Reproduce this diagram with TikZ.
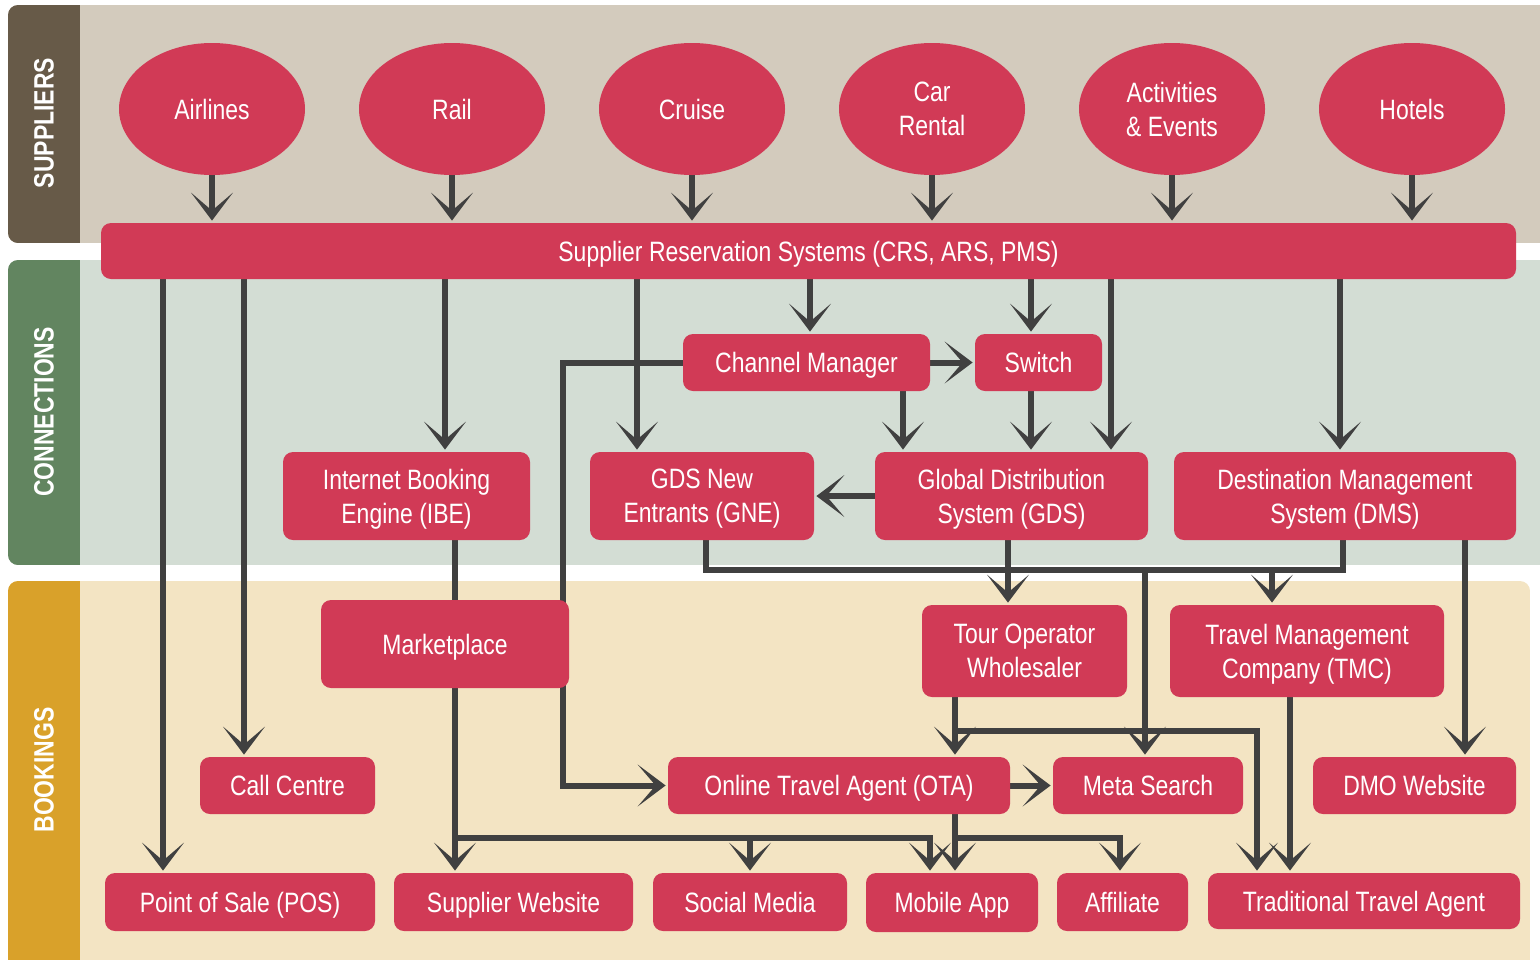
\documentclass[tikz,border=0pt]{standalone}
\usepackage{fontspec}
\setmainfont{Liberation Sans}[FakeStretch=0.82]
\usetikzlibrary{shapes.geometric,arrows.meta}

\definecolor{nodered}{RGB}{209,58,86}
\definecolor{wiregrey}{RGB}{64,64,64}
\definecolor{supstrip}{RGB}{103,90,72}
\definecolor{supbg}{RGB}{211,203,189}
\definecolor{constrip}{RGB}{98,133,96}
\definecolor{conbg}{RGB}{211,221,212}
\definecolor{bookstrip}{RGB}{217,161,42}
\definecolor{bookbg}{RGB}{243,228,195}

\newcommand\boxfont{\fontsize{14}{17}\selectfont}
\newcommand\bandfont{\fontsize{14}{17}\selectfont\bfseries}

\pgfdeclarelayer{bands}
\pgfdeclarelayer{wires}
\pgfsetlayers{bands,wires,main}

\tikzset{every picture/.style={line width=0.75pt}}
\tikzset{
  supplier/.style={ellipse, fill=nodered, text=white, inner sep=0pt,
    minimum width=93pt, minimum height=66pt, align=center, font=\boxfont},
  box/.style={rounded corners=5pt, fill=nodered, text=white, inner sep=0pt,
    align=center, font=\boxfont},
  oneline/.style={box, text height=12pt, text depth=2pt},
  twoline/.style={box, text depth=0pt},
  wire/.style={draw=wiregrey, line width=3pt},
  conn/.style={wire, -{Stealth[length=14pt,width=21pt,inset=9pt]}, shorten >=1pt},
  bandlabel/.style={rotate=90, text=white, font=\bandfont}
}

\begin{document}
\begin{tikzpicture}[x=0.5pt,y=0.5pt,yscale=-1,xscale=1]
\useasboundingbox (0,0) rectangle (1540,959);

% Bands
\begin{pgfonlayer}{bands}
\foreach \ytop/\ybot/\xend/\strip/\bg in {5/243/1560/supstrip/supbg, 260/565/1560/constrip/conbg, 581/990/1530/bookstrip/bookbg}{
  \begin{scope}
    \clip[rounded corners=5pt] (8,\ytop) rectangle (\xend,\ybot);
    \fill[\bg] (8,\ytop) rectangle (\xend,\ybot);
    \fill[\strip] (8,\ytop) rectangle (80,\ybot);
  \end{scope}
}
\end{pgfonlayer}
\node (lblsup) at (44,123) [bandlabel] {SUPPLIERS};
\node (lblcon) at (44,412) [bandlabel] {CONNECTIONS};
\node (lblbook) at (44,770) [bandlabel] {BOOKINGS};

% Suppliers
\node (airlines) at (212,109) [supplier] {Airlines};
\node (rail) at (452,109) [supplier] {Rail};
\node (cruise) at (692,109) [supplier] {Cruise};
\node (car) at (932,109) [supplier] {Car\\Rental};
\node (events) at (1172,109) [supplier] {Activities\\\& Events};
\node (hotels) at (1412,109) [supplier] {Hotels};

\node (srs) at (808.5,251) [oneline, minimum width=707.5pt, minimum height=28pt] {Supplier Reservation Systems (CRS, ARS, PMS)};

% Connections
\node (chm) at (806.5,362.5) [oneline, minimum width=123.5pt, minimum height=28.5pt] {Channel Manager};
\node (switch) at (1038.5,362.5) [oneline, minimum width=63.5pt, minimum height=28.5pt] {Switch};
\node (ibe) at (406.5,496) [twoline, minimum width=123.5pt, minimum height=44pt] {Internet Booking\\Engine (IBE)};
\node (gne) at (702,496) [twoline, minimum width=112pt, minimum height=44pt] {GDS New\\Entrants (GNE)};
\node (gds) at (1011.5,496) [twoline, minimum width=136.5pt, minimum height=44pt] {Global Distribution\\System (GDS)};
\node (dms) at (1345,496) [twoline, minimum width=171pt, minimum height=44pt] {Destination Management\\System (DMS)};

% Bookings
\node (market) at (445,644) [oneline, minimum width=124pt, minimum height=44pt] {Marketplace};
\node (tour) at (1024.5,651) [twoline, minimum width=102.5pt, minimum height=46pt] {Tour Operator\\Wholesaler};
\node (tmc) at (1307,651) [twoline, minimum width=137pt, minimum height=46pt] {Travel Management\\Company (TMC)};
\node (call) at (287.5,785.5) [oneline, minimum width=87.5pt, minimum height=28.5pt] {Call Centre};
\node (ota) at (839,785.5) [oneline, minimum width=171pt, minimum height=28.5pt] {Online Travel Agent (OTA)};
\node (meta) at (1148,785.5) [oneline, minimum width=95pt, minimum height=28.5pt] {Meta Search};
\node (dmo) at (1414.5,785.5) [oneline, minimum width=101.5pt, minimum height=28.5pt] {DMO Website};
\node (pos) at (240,902) [oneline, minimum width=135pt, minimum height=29pt] {Point of Sale (POS)};
\node (suppweb) at (513.5,902) [oneline, minimum width=119.5pt, minimum height=29pt] {Supplier Website};
\node (social) at (750,902) [oneline, minimum width=97pt, minimum height=29pt] {Social Media};
\node (mobile) at (952,902.5) [oneline, minimum width=86pt, minimum height=29.5pt] {Mobile App};
\node (affiliate) at (1122.5,902) [oneline, minimum width=65.5pt, minimum height=29pt] {Affiliate};
\node (tta) at (1364,901) [oneline, minimum width=156pt, minimum height=28pt] {Traditional Travel Agent};

\coordinate (bus) at (706,570);

\begin{pgfonlayer}{wires}
%Suppliers into reservation systems
\foreach \s in {airlines,rail,cruise,car,events,hotels}
  \draw[conn] (\s.south) -- (srs.north -| \s.south);
%Reservation systems down
\draw[conn] (srs.south -| 163,0) -- (pos.north -| 163,0);
\draw[conn] (srs.south -| 244,0) -- (call.north -| 244,0);
\draw[conn] (srs.south -| 445,0) -- (ibe.north -| 445,0);
\draw[conn] (srs.south -| 637,0) -- (gne.north -| 637,0);
\draw[conn] (srs.south -| 810,0) -- (chm.north -| 810,0);
\draw[conn] (srs.south -| 1031,0) -- (switch.north -| 1031,0);
\draw[conn] (srs.south -| 1111,0) -- (gds.north -| 1111,0);
\draw[conn] (srs.south -| 1340,0) -- (dms.north -| 1340,0);
%Channel manager and switch
\draw[conn] (chm.east) -- (switch.west);
\draw[conn] (chm.south -| 903,0) -- (gds.north -| 903,0);
\draw[conn] (switch.south -| 1031,0) -- (gds.north -| 1031,0);
\draw[conn] (gds.west) -- (gne.east);
\draw[conn] (chm.west) -- ++(-120,0) |- (ota.west);
%Marketplace
\draw[wire] (ibe.south -| 455,0) -- (market.north -| 455,0);
\draw[conn] (market.south -| 455,0) -- (suppweb.north -| 455,0);
\draw[conn] (market.south -| 455,0) -- ++(0,150) -| (social.north);
\draw[conn] (market.south -| 455,0) -- ++(0,150) -| (mobile.north -| 930,0);
%Distribution bus
\draw[wire] (gne.south -| bus) -- (bus) -| (dms.south -| 1343,0);
\draw[conn] (gds.south -| 1008,0) -- (tour.north -| 1008,0);
\draw[conn] (bus -| 1272,0) -- (tmc.north -| 1272,0);
\draw[conn] (bus -| 1145,0) -- (meta.north -| 1145,0);
%Tour operator, TMC, DMS
\draw[conn] (tour.south -| 955,0) -- (ota.north -| 955,0);
\draw[conn] (tour.south -| 955,0) -- ++(0,34) -| (tta.north -| 1257,0);
\draw[conn] (tmc.south -| 1290,0) -- (tta.north -| 1290,0);
\draw[conn] (dms.south -| 1465,0) -- (dmo.north -| 1465,0);
%Online travel agent
\draw[conn] (ota.east) -- (meta.west);
\draw[conn] (ota.south -| 955,0) -- (mobile.north -| 955,0);
\draw[conn] (ota.south -| 955,0) -- ++(0,24) -| (affiliate.north -| 1120,0);
\end{pgfonlayer}
\end{tikzpicture}
\end{document}
